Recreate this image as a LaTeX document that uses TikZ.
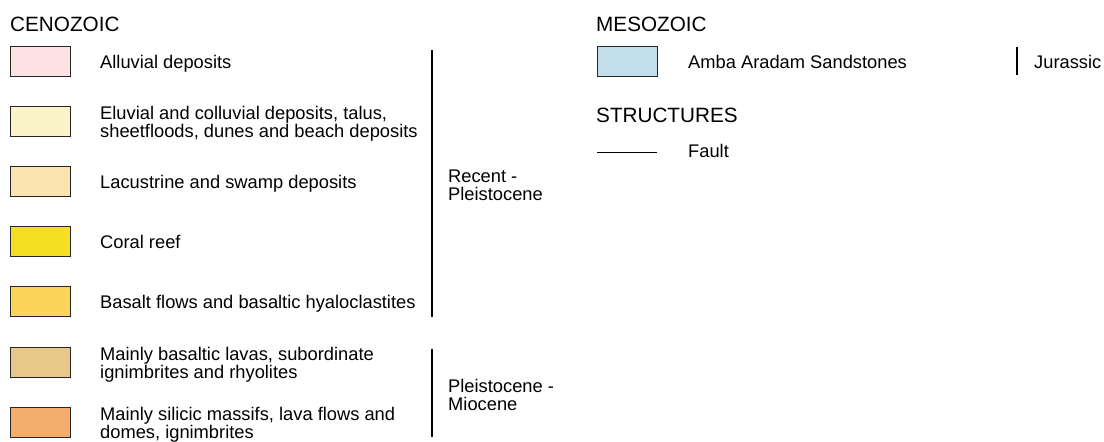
\documentclass[tikz,border=0pt]{standalone}
\usepackage{fontspec}
\setmainfont{Liberation Sans}
\definecolor{cAll}{HTML}{FDE1E3}
\definecolor{cElu}{HTML}{FAF2C8}
\definecolor{cLac}{HTML}{FBE4B0}
\definecolor{cCor}{HTML}{F6DE22}
\definecolor{cBas}{HTML}{FDD45A}
\definecolor{cMba}{HTML}{E8C888}
\definecolor{cMsi}{HTML}{F5AD6D}
\definecolor{cAmb}{HTML}{C1DEEA}
\begin{document}
\begin{tikzpicture}[x=1pt,y=-1pt,
  swatch/.style={draw=black!85,line width=0.9pt,minimum width=60.5pt,minimum height=30pt,inner sep=0pt,anchor=north west},
  lbl/.style={font=\fontsize{18.3}{17.8}\selectfont,inner sep=0pt,align=left},
  one/.style={lbl,anchor=base west},
  two/.style={lbl,anchor=west},
  head/.style={font=\fontsize{20.7}{24}\selectfont,inner sep=0pt,anchor=base west},
  bar/.style={line width=1.2pt,draw=black}]
\useasboundingbox (0,0) rectangle (1104,442);
% headings
\node[head] (ceno) at (10,31.5) {CENOZOIC};
\node[head] (meso) at (596,31.5) {MESOZOIC};
\node[head] (stru) at (596,122) {STRUCTURES};
% Cenozoic swatches
\node[swatch,fill=cAll] (s1) at (9.5,46) {};
\node[swatch,fill=cElu] (s2) at (9.5,106) {};
\node[swatch,fill=cLac] (s3) at (9.5,166) {};
\node[swatch,fill=cCor] (s4) at (9.5,226) {};
\node[swatch,fill=cBas] (s5) at (9.5,286) {};
\node[swatch,fill=cMba] (s6) at (9.5,346.5) {};
\node[swatch,fill=cMsi] (s7) at (9.5,406.5) {};
% Cenozoic labels
\node[one] (t1) at (100,68) {Alluvial deposits};
\node[two] (t2) at (100,123.5) {Eluvial and colluvial deposits, talus,\\sheetfloods, dunes and beach deposits};
\node[one] (t3) at (100,188) {Lacustrine and swamp deposits};
\node[one] (t4) at (100,248) {Coral reef};
\node[one] (t5) at (100,308) {Basalt flows and basaltic hyaloclastites};
\node[two] (t6) at (100,364.5) {Mainly basaltic lavas, subordinate\\ignimbrites and rhyolites};
\node[two] (t7) at (100,424.5) {Mainly silicic massifs, lava flows and\\domes, ignimbrites};
% age brackets
\coordinate (r1) at (432,50);
\coordinate (r2) at (432,317);
\draw[bar] (r1) -- (r2);
\node[two] (recent) at (448,185) {Recent -\\Pleistocene};
\coordinate (p1) at (432,349);
\coordinate (p2) at (432,437);
\draw[bar] (p1) -- (p2);
\node[two] (plmi) at (448,395) {Pleistocene -\\Miocene};
% Mesozoic
\node[swatch,fill=cAmb] (s8) at (596.5,46) {};
\node[one] (t8) at (688,68) {Amba Aradam Sandstones};
\coordinate (j1) at (1017,47);
\coordinate (j2) at (1017,75);
\draw[bar] (j1) -- (j2);
\node[one] (jur) at (1034,68) {Jurassic};
% Structures
\coordinate (f1) at (597,152);
\coordinate (f2) at (657,152);
\draw[line width=1pt] (f1) -- (f2);
\node[one] (fault) at (688,157.5) {Fault};
\end{tikzpicture}
\end{document}
